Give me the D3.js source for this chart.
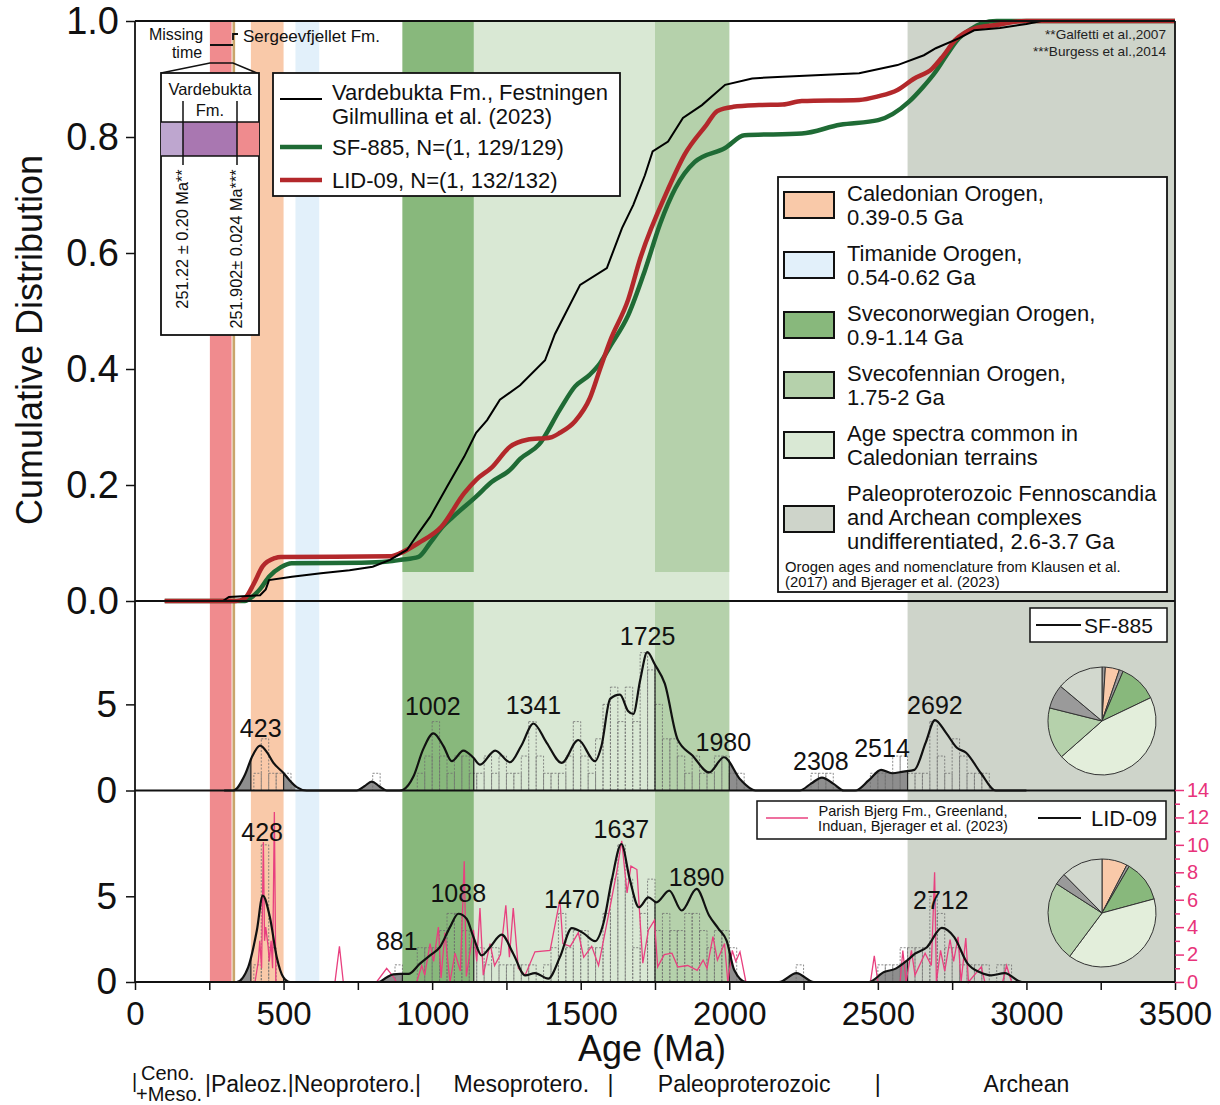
<!DOCTYPE html>
<html>
<head>
<meta charset="utf-8">
<script src="https://cdn.jsdelivr.net/npm/d3@7"></script>
<style>
  body { margin: 0; background: #fff; }
  svg { font-family: "Liberation Sans", Arial, sans-serif; }
</style>
</head>
<body>
<svg width="1220" height="1105"></svg>
<script>
// ---------------- data ----------------
// orogen bands (Ma)
let bandKeys  = ["cal", "tim", "svn", "svf", "age", "arc"];
let bandStart = [390, 540, 900, 1750, 900, 2600];
let bandEnd   = [500, 620, 1140, 2000, 2000, 3700];
let bandLabels = [
  ["Caledonian Orogen,", "0.39-0.5 Ga"],
  ["Timanide Orogen,", "0.54-0.62 Ga"],
  ["Sveconorwegian Orogen,", "0.9-1.14 Ga"],
  ["Svecofennian Orogen,", "1.75-2 Ga"],
  ["Age spectra common in", "Caledonian terrains"],
  ["Paleoproterozoic Fennoscandia", "and Archean complexes", "undifferentiated, 2.6-3.7 Ga"]
];
// Permian-Triassic marker (Ma)
let ptStart = 252, ptEnd = 325, sgStart = 328, sgEnd = 337;

// cumulative distributions [age, F]
let cdfVarde = [[100,0],[296,0],[316,0.007],[421,0.01],[440,0.02],[451,0.036],[528,0.042],[626,0.048],[722,0.053],[800,0.059],[858,0.071],[915,0.088],[954,0.117],[993,0.145],[1050,0.197],[1108,0.249],[1148,0.29],[1185,0.312],[1228,0.347],[1296,0.372],[1380,0.415],[1413,0.46],[1446,0.493],[1498,0.545],[1588,0.574],[1639,0.643],[1677,0.683],[1716,0.734],[1742,0.775],[1794,0.792],[1844,0.833],[1908,0.855],[1986,0.89],[2077,0.901],[2180,0.904],[2437,0.91],[2566,0.924],[2655,0.941],[2695,0.953],[2772,0.97],[2824,0.984],[2911,0.988],[3000,0.995],[3050,1],[3500,1]];
let cdfSF = [[100,0],[370,0],[394,0.007],[420,0.02],[451,0.042],[490,0.058],[528,0.065],[761,0.066],[850,0.068],[895,0.071],[954,0.076],[993,0.1],[1030,0.125],[1070,0.145],[1148,0.18],[1200,0.205],[1262,0.226],[1296,0.245],[1360,0.27],[1430,0.33],[1481,0.37],[1530,0.39],[1565,0.41],[1600,0.44],[1660,0.493],[1716,0.57],[1767,0.65],[1819,0.712],[1884,0.757],[1986,0.781],[2051,0.803],[2244,0.806],[2373,0.821],[2501,0.829],[2605,0.861],[2650,0.885],[2695,0.913],[2730,0.94],[2772,0.97],[2810,0.985],[2850,0.996],[2900,1],[3500,1]];
let cdfLID = [[100,0],[340,0],[370,0.005],[400,0.03],[430,0.06],[471,0.074],[491,0.076],[858,0.077],[895,0.083],[954,0.1],[1031,0.128],[1108,0.186],[1148,0.209],[1200,0.23],[1262,0.266],[1320,0.278],[1398,0.282],[1430,0.29],[1481,0.31],[1531,0.35],[1565,0.40],[1600,0.45],[1660,0.52],[1700,0.59],[1794,0.71],[1850,0.77],[1922,0.82],[1960,0.845],[2013,0.852],[2100,0.855],[2180,0.856],[2244,0.862],[2437,0.864],[2500,0.87],[2566,0.881],[2620,0.9],[2683,0.918],[2720,0.94],[2760,0.967],[2824,0.987],[2911,0.994],[2950,0.998],[3000,1],[3500,1]];

// KDE curves [age, density]
let kdeSF = [[300,0],[331,0],[370,0.91],[395,2.0],[421,2.6],[445,2.2],[466,1.6],[499,1.03],[520,0.6],[544,0.2],[578,0],[746,0],[772,0.25],[797,0.52],[822,0.25],[847,0],[890,0],[903,0.05],[937,0.81],[970,2.4],[1004,3.32],[1038,2.58],[1066,1.7],[1105,2.32],[1139,1.9],[1161,1.5],[1212,2.32],[1262,1.64],[1300,2.6],[1341,3.89],[1385,2.78],[1436,1.6],[1492,2.93],[1548,1.7],[1570,2.6],[1599,5.32],[1632,5.56],[1660,4.6],[1677,4.44],[1700,6.4],[1724,8.03],[1750,7.3],[1783,6.2],[1826,2.97],[1876,2.03],[1932,1.05],[1982,1.93],[2038,0.62],[2088,0],[2237,0],[2275,0.4],[2312,0.75],[2350,0.4],[2386,0],[2424,0],[2470,0.6],[2511,1.2],[2548,1.0],[2586,1.1],[2623,1.2],[2661,2.78],[2692,4.09],[2729,3.36],[2766,2.48],[2797,2.19],[2847,1.0],[2897,0],[3000,0]];
let kdeLID = [[300,0],[342,0],[381,0.87],[410,3.0],[430,5.04],[454,3.78],[477,1.45],[499,0.29],[522,0],[819,0],[845,0.25],[869,0.45],[892,0.47],[920,0.47],[959,1.07],[993,1.55],[1026,2.03],[1060,3.2],[1088,3.98],[1116,3.69],[1139,2.62],[1167,1.55],[1195,2.03],[1234,2.76],[1273,1.65],[1313,0.39],[1346,0.52],[1391,0.2],[1430,1.45],[1470,3.14],[1509,2.85],[1548,2.38],[1576,3.4],[1604,5.9],[1637,8.05],[1665,6.0],[1696,4.36],[1728,4.94],[1755,4.65],[1798,5.33],[1840,4.17],[1890,5.43],[1932,3.88],[1964,3.1],[1991,2.42],[2017,0.68],[2056,0],[2167,0],[2226,0.52],[2285,0],[2469,0],[2521,0.58],[2560,0.78],[2599,1.26],[2625,1.65],[2665,2.03],[2715,3.16],[2757,2.62],[2802,1.07],[2842,0.58],[2881,0.39],[2927,0.52],[2985,0],[3000,0]];

// histograms [bin start, count], 25 Ma bins
let binWidth = 25;
let histSF = [[400,1],[425,3],[450,1],[475,1],[500,1],[800,1],[950,1],[975,2],[1000,4],[1025,2],[1050,1],[1075,2],[1100,2],[1125,1],[1150,1],[1175,2],[1200,1],[1225,2],[1250,1],[1275,1],[1300,2],[1325,4],[1350,2],[1375,1],[1400,1],[1425,1],[1450,2],[1475,4],[1500,2],[1525,1],[1550,3],[1575,5],[1600,6],[1625,4],[1650,6],[1675,4],[1700,8],[1725,7],[1750,5],[1775,3],[1800,3],[1825,2],[1850,1],[1875,2],[1900,1],[1925,1],[1950,2],[1975,2],[2000,1],[2025,1],[2275,1],[2300,1],[2325,1],[2475,1],[2500,1],[2525,1],[2550,2],[2575,2],[2600,1],[2625,1],[2650,1],[2675,4],[2700,2],[2725,1],[2750,3],[2775,2],[2800,1],[2825,1],[2850,1]];
let histLID = [[400,1],[425,8],[450,2],[875,1],[950,2],[975,2],[1000,2],[1025,3],[1050,4],[1075,4],[1100,3],[1125,2],[1150,2],[1175,1],[1200,2],[1225,1],[1250,1],[1275,1],[1300,1],[1325,1],[1375,1],[1400,2],[1425,4],[1450,2],[1475,3],[1500,3],[1525,2],[1550,2],[1575,4],[1600,6],[1625,8],[1650,6],[1675,2],[1700,4],[1725,6],[1750,3],[1775,4],[1800,3],[1825,3],[1850,4],[1875,4],[1900,3],[1925,2],[1950,3],[1975,3],[2000,2],[2225,1],[2500,1],[2525,1],[2550,1],[2575,2],[2600,2],[2625,2],[2650,2],[2675,5],[2700,4],[2725,2],[2750,2],[2775,1],[2800,1],[2825,1],[2850,1],[2900,1],[2925,1]];

// Parish Bjerg Fm. probability curve (right axis)
let parish = [[404,0],[415,1.5],[420,3],[426,1],[432,10.2],[436,3],[440,4],[448,2.6],[452,1.5],[458,3],[463,1],[469,12.4],[474,0],[673,0],[688,2.6],[701,0],[813,0],[847,1.0],[869,0.4],[880,0],[948,0],[965,1.2],[975,0.5],[993,2.8],[1005,1.5],[1021,4.0],[1030,0.3],[1043,3.6],[1060,0],[1077,2.1],[1095,0.8],[1108,8.8],[1115,0.4],[1139,3.8],[1150,1.5],[1161,5.4],[1172,0.5],[1195,2.8],[1210,1.2],[1230,2.0],[1248,5.6],[1260,1.8],[1273,5.4],[1290,1.0],[1313,0.5],[1346,2.2],[1397,2.3],[1430,6.0],[1440,2.8],[1465,2.6],[1492,3.6],[1510,1.8],[1537,2.6],[1560,1.2],[1599,5.5],[1621,8.0],[1638,10.3],[1656,6.5],[1669,8.45],[1689,8.2],[1709,1.37],[1728,3.8],[1748,4.5],[1759,1.1],[1781,2.0],[1807,2.1],[1827,1.1],[1860,1.2],[1892,0.85],[1912,1.6],[1925,1.0],[1945,3.3],[1960,1.6],[1984,2.8],[1995,0],[2010,2.3],[2022,1.5],[2036,2.2],[2056,0],[2475,0],[2488,1.9],[2500,0],[2575,0],[2584,2.3],[2595,0],[2613,2.3],[2625,0.5],[2659,2.1],[2680,1.2],[2691,8.0],[2697,0],[2711,2.3],[2725,0.8],[2743,3.1],[2755,1.5],[2770,3.3],[2780,0],[2796,3.2],[2805,0],[2848,1.1],[2860,0],[2920,0],[2933,1.2],[2950,0]];

// peaks
let peaksSF    = [423, 1002, 1341, 1725, 1980, 2308, 2514, 2692];
let peakValSF  = [2.6, 3.32, 3.89, 8.03, 1.93, 0.75, 1.2, 4.09];
let peaksLID   = [428, 881, 1088, 1470, 1637, 1890, 2712];
let peakValLID = [5.04, 0.47, 3.98, 3.14, 8.05, 5.43, 3.16];

// pie fractions (%)
let pieCats = ["young", "cal", "mix", "svn", "age", "svf", "mid", "arc"];
let pieSF  = [1.0, 4.2, 1.2, 11.5, 45.6, 15.4, 7.2, 13.9];
let pieLID = [0.0, 7.6, 0.8, 12.4, 39.4, 23.9, 3.5, 12.4];

let xTicks = d3.range(0, 3501, 250);
let eraLabels = ["Mesoprotero.", "Paleoproterozoic", "Archean"];
let eraCenters = [1300, 2050, 3000];
let eraBounds = [1600, 2500];

// ---------------- setup ----------------
let colors = {cal: "#f9c9a9", tim: "#e2f0fa", svn: "#88b87c", svf: "#b5d1ab",
              age: "#d9e8d4", arc: "#ced4ca", young: "#9a9a9a", mix: "#9a9a9a",
              mid: "#9a9a9a"};
let pieColors = Object.assign({}, colors, {age: "#e3eedb", arc: "#d2d8ce"});

let svg = d3.select("svg");
let left = 135, right = 1175;
let x = d3.scaleLinear().domain([0, 3500]).range([left, right]);
let yTop = d3.scaleLinear().domain([0, 1]).range([601, 21]);
let yMid = d3.scaleLinear().domain([0, 11]).range([790.5, 601]);
let yBot = d3.scaleLinear().domain([0, 11.2]).range([982, 790]);
let yPink = d3.scaleLinear().domain([0, 14]).range([982, 790]);
let xc = v => x(Math.min(v, 3500));

// KDE gray fill (bands drawn over it)
let area = y => d3.area().x(d => x(d[0])).y0(y(0)).y1(d => y(d[1])).curve(d3.curveMonotoneX);
svg.append("path").attr("d", area(yMid)(kdeSF)).attr("fill", "#8e8e8e");
svg.append("path").attr("d", area(yBot)(kdeLID)).attr("fill", "#8e8e8e");

// Permian-Triassic marker
svg.append("rect").attr("x", x(ptStart)).attr("width", x(ptEnd) - x(ptStart))
  .attr("y", 21).attr("height", 961).attr("fill", "#f08b8e");
svg.append("rect").attr("x", x(sgStart)).attr("width", x(sgEnd) - x(sgStart))
  .attr("y", 21).attr("height", 961).attr("fill", "#c9a56b");

// bands: full-height ones first, Sveconorwegian / Svecofennian on top
// (these stop at F = 0.05 in the cumulative panel)
bandKeys.forEach((k, i) => {
  let x0 = x(bandStart[i]), x1 = xc(bandEnd[i]);
  if (k === "svn" || k === "svf") return;
  svg.append("rect").attr("x", x0).attr("width", x1 - x0)
    .attr("y", 21).attr("height", 961).attr("fill", colors[k]);
});
["svn", "svf"].forEach(k => {
  let i = bandKeys.indexOf(k);
  let x0 = x(bandStart[i]), x1 = x(bandEnd[i]);
  svg.append("rect").attr("x", x0).attr("width", x1 - x0)
    .attr("y", 21).attr("height", yTop(0.05) - 21).attr("fill", colors[k]);
  svg.append("rect").attr("x", x0).attr("width", x1 - x0)
    .attr("y", 601).attr("height", 381).attr("fill", colors[k]);
});

// histograms
function drawHist(data, y) {
  svg.append("g").selectAll("rect").data(data).enter().append("rect")
    .attr("x", d => x(d[0]))
    .attr("width", x(binWidth) - x(0))
    .attr("y", d => y(d[1]))
    .attr("height", d => y(0) - y(d[1]))
    .attr("fill", "none")
    .attr("stroke", "#6f6f6f")
    .attr("stroke-width", 0.8)
    .attr("stroke-dasharray", "2,1.5");
}
drawHist(histSF, yMid);
drawHist(histLID, yBot);

// band-edge lines clipped to KDE areas
let edges = [390, 500, 900, 1140, 1750, 2000, 2600];
[["clipSF", kdeSF, yMid], ["clipLID", kdeLID, yBot]].forEach(([id, data, y]) => {
  svg.append("clipPath").attr("id", id).append("path").attr("d", area(y)(data));
  svg.append("g").attr("clip-path", `url(#${id})`).selectAll("line").data(edges).enter()
    .append("line")
    .attr("x1", d => x(d)).attr("x2", d => x(d))
    .attr("y1", y.range()[1]).attr("y2", y.range()[0])
    .attr("stroke", "#222").attr("stroke-width", 1.2);
});

// Parish Bjerg curve
svg.append("path").datum(parish)
  .attr("d", d3.line().x(d => x(d[0])).y(d => yPink(d[1])))
  .attr("fill", "none").attr("stroke", "#e8407f").attr("stroke-width", 1.3);

// KDE lines
let kdeLine = y => d3.line().x(d => x(d[0])).y(d => y(d[1])).curve(d3.curveMonotoneX);
svg.append("path").datum(kdeSF).attr("d", kdeLine(yMid))
  .attr("fill", "none").attr("stroke", "#111").attr("stroke-width", 2.2);
svg.append("path").datum(kdeLID).attr("d", kdeLine(yBot))
  .attr("fill", "none").attr("stroke", "#111").attr("stroke-width", 2.2);

// CDF lines
let cdfSmooth = d3.line().x(d => x(d[0])).y(d => yTop(d[1])).curve(d3.curveMonotoneX);
svg.append("path").datum(cdfSF).attr("d", cdfSmooth)
  .attr("fill", "none").attr("stroke", "#1f6b35").attr("stroke-width", 4.5);
svg.append("path").datum(cdfLID).attr("d", cdfSmooth)
  .attr("fill", "none").attr("stroke", "#b3282b").attr("stroke-width", 4.5);
svg.append("path").datum(cdfVarde)
  .attr("d", d3.line().x(d => x(d[0])).y(d => yTop(d[1])))
  .attr("fill", "none").attr("stroke", "#000").attr("stroke-width", 2);

// frames
let frame = svg.append("g").attr("stroke", "#111").attr("stroke-width", 1.8);
frame.append("line").attr("x1", left).attr("x2", right).attr("y1", 21).attr("y2", 21);
[601, 790.5, 982].forEach(yy =>
  frame.append("line").attr("x1", left).attr("x2", right).attr("y1", yy).attr("y2", yy));
frame.append("line").attr("x1", left).attr("x2", left).attr("y1", 21).attr("y2", 982);
frame.append("line").attr("x1", right).attr("x2", right).attr("y1", 21).attr("y2", 982);

// axes
function styleAxis(g, size, color) {
  g.select(".domain").remove();
  g.selectAll("text").attr("font-size", size).attr("fill", color || "#111")
    .attr("font-family", "Liberation Sans, Arial, sans-serif");
  g.selectAll("line").attr("stroke", color || "#111").attr("stroke-width", 1.5);
}
svg.append("g").attr("transform", `translate(${left},0)`)
  .call(d3.axisLeft(yTop).tickValues([0, 0.2, 0.4, 0.6, 0.8, 1.0])
        .tickFormat(d3.format(".1f")).tickSize(9).tickPadding(7))
  .call(g => styleAxis(g, 38));
svg.append("g").attr("transform", `translate(${left},0)`)
  .call(d3.axisLeft(yMid).tickValues([0, 5]).tickSize(9).tickPadding(9))
  .call(g => styleAxis(g, 37));
svg.append("g").attr("transform", `translate(${left},0)`)
  .call(d3.axisLeft(yBot).tickValues([0, 5]).tickSize(9).tickPadding(9))
  .call(g => styleAxis(g, 37));
svg.append("g").attr("transform", `translate(0,982)`)
  .call(d3.axisBottom(x).tickValues(xTicks).tickSize(8).tickPadding(12)
        .tickFormat(d => d % 500 === 0 ? d : ""))
  .call(g => styleAxis(g, 33));
let pinkAxis = svg.append("g").attr("transform", `translate(${right},0)`)
  .call(d3.axisRight(yPink).tickValues(d3.range(0, 15)).tickSize(9).tickPadding(3)
        .tickFormat(d => d % 2 === 0 ? d : ""))
  .call(g => styleAxis(g, 20, "#e8337a"));
pinkAxis.selectAll(".tick line").attr("x2", d => d % 2 === 0 ? 9 : 5);

// axis titles
svg.append("text").attr("transform", "translate(42,340) rotate(-90)")
  .attr("text-anchor", "middle").attr("font-size", 36).attr("fill", "#111")
  .text("Cumulative Distribution");
svg.append("text").attr("x", 652).attr("y", 1061).attr("text-anchor", "middle")
  .attr("font-size", 36).attr("fill", "#111").text("Age (Ma)");

// era labels
let era = svg.append("g").attr("font-size", 23).attr("fill", "#111");
era.append("text").attr("x", 132).attr("y", 1088).attr("font-size", 20).text("|");
era.append("text").attr("x", 141).attr("y", 1080).attr("font-size", 20).text("Ceno.");
era.append("text").attr("x", 136).attr("y", 1101).attr("font-size", 20).text("+Meso.");
era.append("text").attr("x", 205).attr("y", 1092).text("|Paleoz.|Neoprotero.|");
eraLabels.forEach((t, i) =>
  era.append("text").attr("x", x(eraCenters[i])).attr("y", 1092)
    .attr("text-anchor", "middle").text(t));
eraBounds.forEach(b =>
  era.append("text").attr("x", x(b)).attr("y", 1092).attr("text-anchor", "middle").text("|"));

// peak labels
let peakG = svg.append("g").attr("font-size", 25).attr("fill", "#111").attr("text-anchor", "middle");
let sfDy = [9, 18, 9, 7, 6, 8, 13, 6];
peaksSF.forEach((p, i) =>
  peakG.append("text").attr("x", x(p)).attr("y", yMid(peakValSF[i]) - sfDy[i]).text(p));
let lidDy = [55, 24, 12, 20, 6, 3, 19];
peaksLID.forEach((p, i) =>
  peakG.append("text").attr("x", x(p)).attr("y", yBot(peakValLID[i]) - lidDy[i]).text(p));

// pies
let pie = d3.pie().sort(null);
let arc = d3.arc().innerRadius(0).outerRadius(54);
[[pieSF, 1102, 721], [pieLID, 1102, 913]].forEach(([vals, cx, cy]) => {
  svg.append("g").attr("transform", `translate(${cx},${cy})`)
    .selectAll("path").data(pie(vals)).enter().append("path")
    .attr("d", arc)
    .attr("fill", (d, i) => pieColors[pieCats[i]])
    .attr("stroke", "#333").attr("stroke-width", 1);
});

// legend: CDF samples
let lg = svg.append("g");
lg.append("rect").attr("x", 273).attr("y", 73).attr("width", 347).attr("height", 123)
  .attr("fill", "#fff").attr("stroke", "#111").attr("stroke-width", 1.8);
[["#000", 2, 99], ["#1f6b35", 4.5, 147], ["#b3282b", 4.5, 180]].forEach(([c, w, yy]) =>
  lg.append("line").attr("x1", 280).attr("x2", 322).attr("y1", yy).attr("y2", yy)
    .attr("stroke", c).attr("stroke-width", w));
let lgText = [["Vardebukta Fm., Festningen", 100], ["Gilmullina et al. (2023)", 124],
              ["SF-885, N=(1, 129/129)", 155], ["LID-09, N=(1, 132/132)", 188]];
lgText.forEach(([t, yy]) =>
  lg.append("text").attr("x", 332).attr("y", yy).attr("font-size", 22).attr("fill", "#111").text(t));

// legend: orogens
let og = svg.append("g");
og.append("rect").attr("x", 778).attr("y", 177).attr("width", 389).attr("height", 415)
  .attr("fill", "#fff").attr("stroke", "#111").attr("stroke-width", 1.8);
let swY = [192, 252, 312, 372, 432, 506];
let txtY = [193, 253, 313, 373, 433, 493];
bandKeys.forEach((k, i) => {
  og.append("rect").attr("x", 784).attr("y", swY[i]).attr("width", 50).attr("height", 26)
    .attr("fill", colors[k]).attr("stroke", "#111").attr("stroke-width", 2);
  bandLabels[i].forEach((t, j) =>
    og.append("text").attr("x", 847).attr("y", txtY[i] + j * 24 + 8)
      .attr("font-size", 22).attr("fill", "#111").text(t));
});
og.append("text").attr("x", 785).attr("y", 572).attr("font-size", 14.8).attr("fill", "#111")
  .text("Orogen ages and nomenclature from Klausen et al.");
og.append("text").attr("x", 785).attr("y", 587).attr("font-size", 14.8).attr("fill", "#111")
  .text("(2017) and Bjerager et al. (2023)");

// legend: SF-885
svg.append("rect").attr("x", 1030).attr("y", 608).attr("width", 137).attr("height", 34)
  .attr("fill", "#fff").attr("stroke", "#111").attr("stroke-width", 1.5);
svg.append("line").attr("x1", 1036).attr("x2", 1081).attr("y1", 625).attr("y2", 625)
  .attr("stroke", "#111").attr("stroke-width", 2);
svg.append("text").attr("x", 1084).attr("y", 633).attr("font-size", 21).attr("fill", "#111").text("SF-885");

// legend: LID-09
svg.append("rect").attr("x", 757).attr("y", 801).attr("width", 409).attr("height", 38)
  .attr("fill", "#fff").attr("stroke", "#111").attr("stroke-width", 1.5);
svg.append("line").attr("x1", 766).attr("x2", 808).attr("y1", 818).attr("y2", 818)
  .attr("stroke", "#e8407f").attr("stroke-width", 1.3);
svg.append("text").attr("x", 913).attr("y", 816).attr("text-anchor", "middle")
  .attr("font-size", 14.6).attr("fill", "#111").text("Parish Bjerg Fm., Greenland,");
svg.append("text").attr("x", 913).attr("y", 831).attr("text-anchor", "middle")
  .attr("font-size", 14.6).attr("fill", "#111").text("Induan, Bjerager et al. (2023)");
svg.append("line").attr("x1", 1038).attr("x2", 1081).attr("y1", 818).attr("y2", 818)
  .attr("stroke", "#111").attr("stroke-width", 2);
svg.append("text").attr("x", 1091).attr("y", 826).attr("font-size", 22).attr("fill", "#111").text("LID-09");

// citations
svg.append("text").attr("x", 1166).attr("y", 39).attr("text-anchor", "end")
  .attr("font-size", 13.6).attr("fill", "#222").text("**Galfetti et al.,2007");
svg.append("text").attr("x", 1166).attr("y", 56).attr("text-anchor", "end")
  .attr("font-size", 13.6).attr("fill", "#222").text("***Burgess et al.,2014");

// stratigraphic inset
let ins = svg.append("g");
ins.append("text").attr("x", 176).attr("y", 40).attr("text-anchor", "middle")
  .attr("font-size", 16).attr("fill", "#111").text("Missing");
ins.append("text").attr("x", 187).attr("y", 58).attr("text-anchor", "middle")
  .attr("font-size", 16).attr("fill", "#111").text("time");
ins.append("text").attr("x", 243).attr("y", 42)
  .attr("font-size", 17).attr("fill", "#111").text("Sergeevfjellet Fm.");
ins.append("path").attr("d", "M210,45 L233,45 M233,40 L233,34 L238,34")
  .attr("fill", "none").attr("stroke", "#111").attr("stroke-width", 1.8);
ins.append("path").attr("d", "M161,73 L210,63 L233,63 L257,73")
  .attr("fill", "none").attr("stroke", "#111").attr("stroke-width", 1.5);
ins.append("rect").attr("x", 161).attr("y", 73).attr("width", 98).attr("height", 262)
  .attr("fill", "#fff").attr("stroke", "#111").attr("stroke-width", 1.8);
ins.append("rect").attr("x", 161).attr("y", 122).attr("width", 22).attr("height", 34).attr("fill", "#bea6cf");
ins.append("rect").attr("x", 183).attr("y", 122).attr("width", 54).attr("height", 34).attr("fill", "#a977b1");
ins.append("rect").attr("x", 237).attr("y", 122).attr("width", 22).attr("height", 34).attr("fill", "#ef8b8e");
ins.append("path").attr("d", "M161,122 L259,122 M161,156 L259,156 M183,101 L183,165 M237,101 L237,165")
  .attr("fill", "none").attr("stroke", "#111").attr("stroke-width", 1.5);
ins.append("text").attr("x", 210).attr("y", 95).attr("text-anchor", "middle")
  .attr("font-size", 16.5).attr("fill", "#111").text("Vardebukta");
ins.append("text").attr("x", 210).attr("y", 116).attr("text-anchor", "middle")
  .attr("font-size", 16.5).attr("fill", "#111").text("Fm.");
ins.append("text").attr("transform", "translate(188,239) rotate(-90)").attr("text-anchor", "middle")
  .attr("font-size", 16.3).attr("fill", "#111").text("251.22 ± 0.20 Ma**");
ins.append("text").attr("transform", "translate(242,249) rotate(-90)").attr("text-anchor", "middle")
  .attr("font-size", 16.3).attr("fill", "#111").text("251.902± 0.024 Ma***");
</script>
</body>
</html>
